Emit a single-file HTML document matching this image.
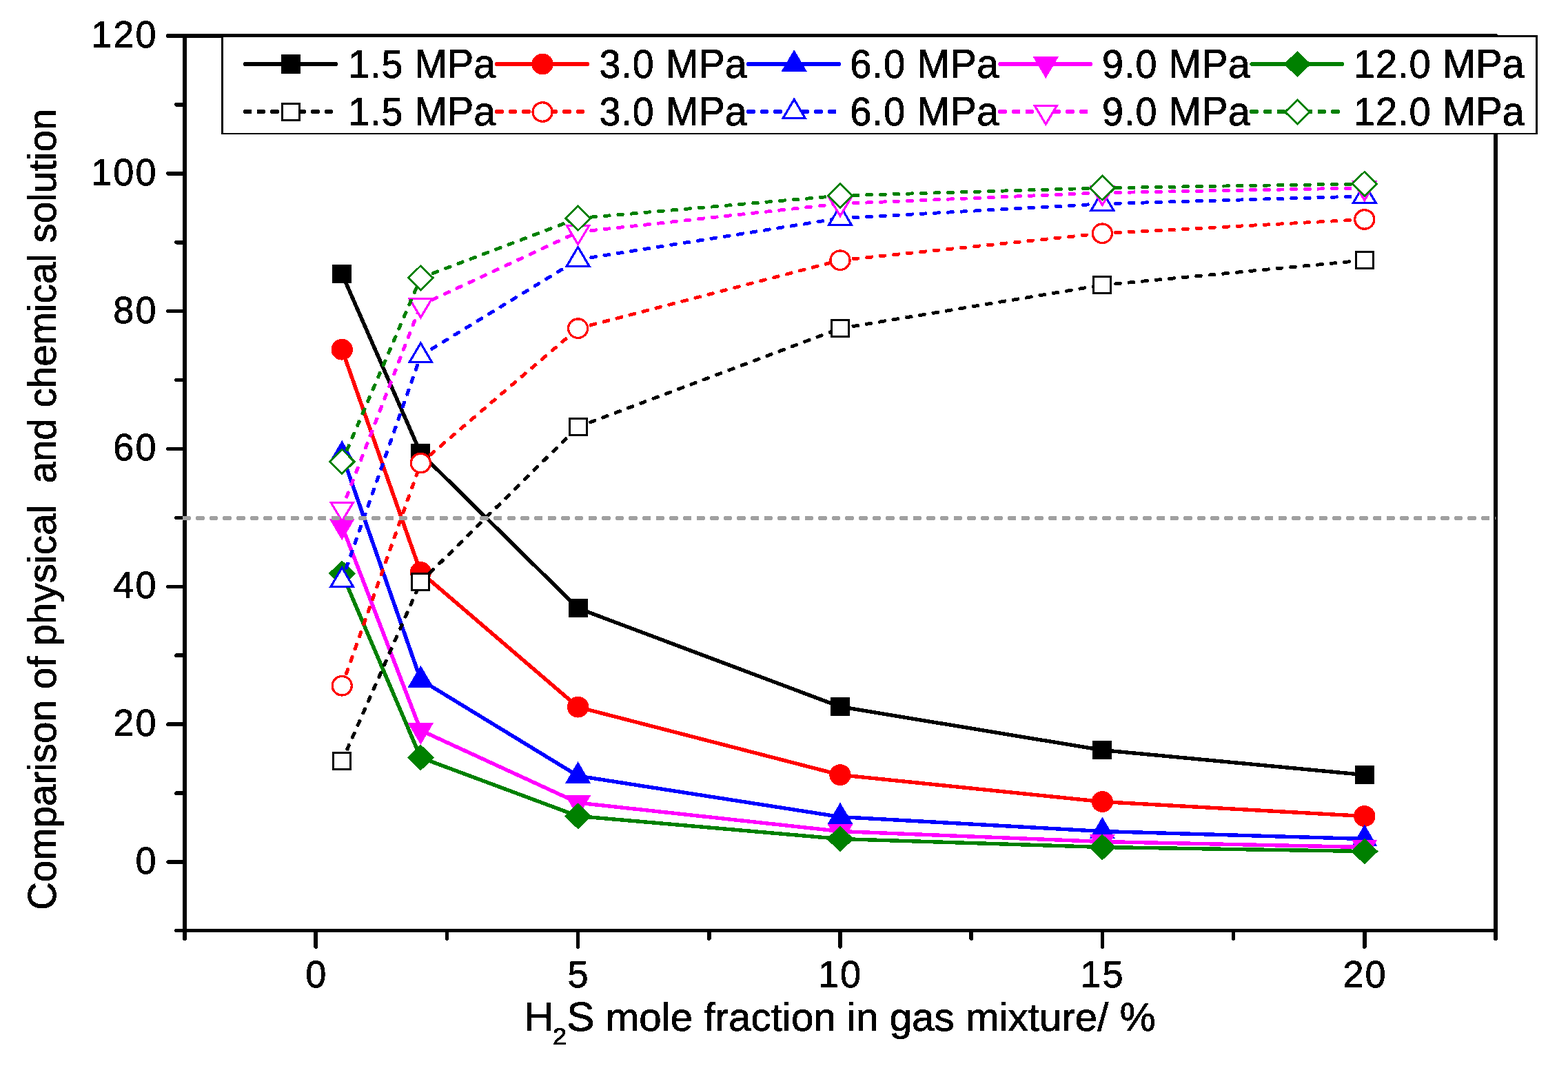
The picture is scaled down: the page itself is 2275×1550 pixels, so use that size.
<!DOCTYPE html>
<html lang="en"><head><meta charset="utf-8"><title>Comparison of physical and chemical solution</title>
<style>
html,body{margin:0;padding:0;background:#fff;}
body{width:2275px;height:1550px;overflow:hidden;}
svg{display:block;}
text{font-family:"Liberation Sans",Arial,Helvetica,sans-serif;fill:#000;stroke:#000;stroke-width:0.8px;stroke-linejoin:round;font-kerning:none;white-space:pre;}
</style></head><body>
<svg width="2275" height="1550" viewBox="0 0 2275 1550" role="img" aria-label="Comparison of physical and chemical solution versus H2S mole fraction">
<defs><filter id="bw" x="-5%" y="-5%" width="110%" height="110%" color-interpolation-filters="sRGB"><feComponentTransfer><feFuncA type="discrete" tableValues="0 1"/></feComponentTransfer></filter></defs>
<rect x="0" y="0" width="2275" height="1550" fill="#ffffff"/>
<g shape-rendering="crispEdges" stroke="#000" fill="none" stroke-linecap="round">
<g stroke-width="6">
<line x1="268" y1="52" x2="268" y2="1362"/>
<line x1="2170" y1="52" x2="2170" y2="1362"/>
<line x1="244" y1="52" x2="2169" y2="52"/>
<line x1="244" y1="1251" x2="268" y2="1251" stroke-width="5.6"/>
<line x1="256" y1="1151.08" x2="268" y2="1151.08" stroke-width="5.6"/>
<line x1="244" y1="1051.17" x2="268" y2="1051.17" stroke-width="5.6"/>
<line x1="256" y1="951.25" x2="268" y2="951.25" stroke-width="5.6"/>
<line x1="244" y1="851.33" x2="268" y2="851.33" stroke-width="5.6"/>
<line x1="256" y1="751.41" x2="268" y2="751.41" stroke-width="5.6"/>
<line x1="244" y1="651.5" x2="268" y2="651.5" stroke-width="5.6"/>
<line x1="256" y1="551.58" x2="268" y2="551.58" stroke-width="5.6"/>
<line x1="244" y1="451.66" x2="268" y2="451.66" stroke-width="5.6"/>
<line x1="256" y1="351.75" x2="268" y2="351.75" stroke-width="5.6"/>
<line x1="244" y1="251.83" x2="268" y2="251.83" stroke-width="5.6"/>
<line x1="256" y1="151.91" x2="268" y2="151.91" stroke-width="5.6"/>
<line x1="458.2" y1="1351" x2="458.2" y2="1374" stroke-width="5.6"/>
<line x1="648.4" y1="1351" x2="648.4" y2="1362" stroke-width="5.6"/>
<line x1="838.6" y1="1351" x2="838.6" y2="1374" stroke-width="5.6"/>
<line x1="1028.8" y1="1351" x2="1028.8" y2="1362" stroke-width="5.6"/>
<line x1="1219" y1="1351" x2="1219" y2="1374" stroke-width="5.6"/>
<line x1="1409.2" y1="1351" x2="1409.2" y2="1362" stroke-width="5.6"/>
<line x1="1599.4" y1="1351" x2="1599.4" y2="1374" stroke-width="5.6"/>
<line x1="1789.6" y1="1351" x2="1789.6" y2="1362" stroke-width="5.6"/>
<line x1="1979.8" y1="1351" x2="1979.8" y2="1374" stroke-width="5.6"/>
</g>
<line x1="255.5" y1="1350.5" x2="2170" y2="1350.5" stroke-width="5"/>
</g>
<g shape-rendering="crispEdges" fill="none">
<polyline transform="scale(1,0.968)" points="496.24,410.86 610.36,679.54 838.6,911.99 1219,1059.59 1599.4,1124.62 1979.8,1161.78" stroke="#000000" stroke-width="5.6" stroke-linejoin="round" stroke-linecap="round"/>
<rect x="482" y="384" width="28" height="27" fill="#000000"/>
<rect x="596" y="644" width="28" height="27" fill="#000000"/>
<rect x="825" y="869" width="28" height="27" fill="#000000"/>
<rect x="1205" y="1012" width="28" height="27" fill="#000000"/>
<rect x="1585" y="1075" width="28" height="27" fill="#000000"/>
<rect x="1966" y="1111" width="28" height="27" fill="#000000"/>
<polyline transform="scale(1,0.968)" points="496.24,523.99 610.36,858.01 838.6,1060.11 1219,1161.78 1599.4,1202.04 1979.8,1223.71" stroke="#ff0000" stroke-width="5.6" stroke-linejoin="round" stroke-linecap="round"/>
<ellipse cx="496.24" cy="507.22" rx="15.7" ry="15.4" fill="#ff0000"/>
<ellipse cx="610.36" cy="830.55" rx="15.7" ry="15.4" fill="#ff0000"/>
<ellipse cx="838.6" cy="1026.19" rx="15.7" ry="15.4" fill="#ff0000"/>
<ellipse cx="1219" cy="1124.6" rx="15.7" ry="15.4" fill="#ff0000"/>
<ellipse cx="1599.4" cy="1163.57" rx="15.7" ry="15.4" fill="#ff0000"/>
<ellipse cx="1979.8" cy="1184.56" rx="15.7" ry="15.4" fill="#ff0000"/>
<polyline transform="scale(1,0.968)" points="496.24,681.81 610.36,1019.24 838.6,1163.33 1219,1224.75 1599.4,1246.42 1979.8,1257.78" stroke="#0000ff" stroke-width="5.6" stroke-linejoin="round" stroke-linecap="round"/>
<polygon points="496.24,638.99 477.54,670.89 514.94,670.89" fill="#0000ff"/>
<polygon points="610.36,965.62 591.66,997.52 629.06,997.52" fill="#0000ff"/>
<polygon points="838.6,1105.1 819.9,1137 857.3,1137" fill="#0000ff"/>
<polygon points="1219,1164.55 1200.3,1196.45 1237.7,1196.45" fill="#0000ff"/>
<polygon points="1599.4,1185.54 1580.7,1217.44 1618.1,1217.44" fill="#0000ff"/>
<polygon points="1979.8,1196.53 1961.1,1228.43 1998.5,1228.43" fill="#0000ff"/>
<polyline transform="scale(1,0.968)" points="496.24,788.64 610.36,1095 838.6,1203.59 1219,1246.42 1599.4,1261.91 1979.8,1270.16" stroke="#ff00ff" stroke-width="5.6" stroke-linejoin="round" stroke-linecap="round"/>
<polygon points="496.24,784.31 477.54,752.61 514.94,752.61" fill="#ff00ff"/>
<polygon points="610.36,1080.86 591.66,1049.16 629.06,1049.16" fill="#ff00ff"/>
<polygon points="838.6,1185.97 819.9,1154.27 857.3,1154.27" fill="#ff00ff"/>
<polygon points="1219,1227.44 1200.3,1195.74 1237.7,1195.74" fill="#ff00ff"/>
<polygon points="1599.4,1242.42 1580.7,1210.72 1618.1,1210.72" fill="#ff00ff"/>
<polygon points="1979.8,1250.42 1961.1,1218.72 1998.5,1218.72" fill="#ff00ff"/>
<polyline transform="scale(1,0.968)" points="496.24,859.86 610.36,1135.87 838.6,1223.61 1219,1257.78 1599.4,1270.16 1979.8,1276.36" stroke="#008000" stroke-width="5.6" stroke-linejoin="round" stroke-linecap="round"/>
<polygon points="496.24,813.35 516.04,832.35 496.24,851.35 476.44,832.35" fill="#008000"/>
<polygon points="610.36,1080.53 630.16,1099.53 610.36,1118.53 590.56,1099.53" fill="#008000"/>
<polygon points="838.6,1165.46 858.4,1184.46 838.6,1203.46 818.8,1184.46" fill="#008000"/>
<polygon points="1219,1198.53 1238.8,1217.53 1219,1236.53 1199.2,1217.53" fill="#008000"/>
<polygon points="1599.4,1210.52 1619.2,1229.52 1599.4,1248.52 1579.6,1229.52" fill="#008000"/>
<polygon points="1979.8,1216.51 1999.6,1235.51 1979.8,1254.51 1960,1235.51" fill="#008000"/>
<g transform="scale(1,0.968)"><line x1="496.24" y1="1141.14" x2="610.36" y2="872.66" stroke="#000000" stroke-width="5.1" stroke-dasharray="10 9.63" stroke-dashoffset="2"/><line x1="496.24" y1="1141.14" x2="610.36" y2="872.66" stroke="#000000" stroke-width="2.9" stroke-dasharray="11.6 8.03" stroke-dashoffset="2.8"/><line x1="610.36" y1="872.66" x2="838.6" y2="640" stroke="#000000" stroke-width="5.1" stroke-dasharray="10 9.63" stroke-dashoffset="2"/><line x1="610.36" y1="872.66" x2="838.6" y2="640" stroke="#000000" stroke-width="2.9" stroke-dasharray="11.6 8.03" stroke-dashoffset="2.8"/><line x1="838.6" y1="640" x2="1219" y2="492.4" stroke="#000000" stroke-width="5.1" stroke-dasharray="10 9.63" stroke-dashoffset="2"/><line x1="838.6" y1="640" x2="1219" y2="492.4" stroke="#000000" stroke-width="2.9" stroke-dasharray="11.6 8.03" stroke-dashoffset="2.8"/><line x1="1219" y1="492.4" x2="1599.4" y2="427.37" stroke="#000000" stroke-width="5.1" stroke-dasharray="10 9.63" stroke-dashoffset="2"/><line x1="1219" y1="492.4" x2="1599.4" y2="427.37" stroke="#000000" stroke-width="2.9" stroke-dasharray="11.6 8.03" stroke-dashoffset="2.8"/><line x1="1599.4" y1="427.37" x2="1979.8" y2="390.21" stroke="#000000" stroke-width="5.1" stroke-dasharray="10 9.63" stroke-dashoffset="2"/><line x1="1599.4" y1="427.37" x2="1979.8" y2="390.21" stroke="#000000" stroke-width="2.9" stroke-dasharray="11.6 8.03" stroke-dashoffset="2.8"/></g>
<rect x="482" y="1091" width="28" height="27" fill="#000000"/><rect x="485" y="1094" width="22" height="21" fill="#fff"/>
<rect x="596" y="831" width="28" height="27" fill="#000000"/><rect x="599" y="834" width="22" height="21" fill="#fff"/>
<rect x="825" y="606" width="28" height="27" fill="#000000"/><rect x="828" y="609" width="22" height="21" fill="#fff"/>
<rect x="1205" y="463" width="28" height="27" fill="#000000"/><rect x="1208" y="466" width="22" height="21" fill="#fff"/>
<rect x="1585" y="400" width="28" height="27" fill="#000000"/><rect x="1588" y="403" width="22" height="21" fill="#fff"/>
<rect x="1966" y="364" width="28" height="27" fill="#000000"/><rect x="1969" y="367" width="22" height="21" fill="#fff"/>
<g transform="scale(1,0.968)"><line x1="496.24" y1="1028.11" x2="610.36" y2="694.3" stroke="#ff0000" stroke-width="5.1" stroke-dasharray="10 9.63" stroke-dashoffset="2"/><line x1="496.24" y1="1028.11" x2="610.36" y2="694.3" stroke="#ff0000" stroke-width="2.9" stroke-dasharray="11.6 8.03" stroke-dashoffset="2.8"/><line x1="610.36" y1="694.3" x2="838.6" y2="492.4" stroke="#ff0000" stroke-width="5.1" stroke-dasharray="10 9.63" stroke-dashoffset="2"/><line x1="610.36" y1="694.3" x2="838.6" y2="492.4" stroke="#ff0000" stroke-width="2.9" stroke-dasharray="11.6 8.03" stroke-dashoffset="2.8"/><line x1="838.6" y1="492.4" x2="1219" y2="390.21" stroke="#ff0000" stroke-width="5.1" stroke-dasharray="10 9.63" stroke-dashoffset="2"/><line x1="838.6" y1="492.4" x2="1219" y2="390.21" stroke="#ff0000" stroke-width="2.9" stroke-dasharray="11.6 8.03" stroke-dashoffset="2.8"/><line x1="1219" y1="390.21" x2="1599.4" y2="349.96" stroke="#ff0000" stroke-width="5.1" stroke-dasharray="10 9.63" stroke-dashoffset="2"/><line x1="1219" y1="390.21" x2="1599.4" y2="349.96" stroke="#ff0000" stroke-width="2.9" stroke-dasharray="11.6 8.03" stroke-dashoffset="2.8"/><line x1="1599.4" y1="349.96" x2="1979.8" y2="329" stroke="#ff0000" stroke-width="5.1" stroke-dasharray="10 9.63" stroke-dashoffset="2"/><line x1="1599.4" y1="349.96" x2="1979.8" y2="329" stroke="#ff0000" stroke-width="2.9" stroke-dasharray="11.6 8.03" stroke-dashoffset="2.8"/></g>
<ellipse cx="496.24" cy="995.21" rx="14.05" ry="13.75" fill="#fff" stroke="#ff0000" stroke-width="3.3"/>
<ellipse cx="610.36" cy="672.08" rx="14.05" ry="13.75" fill="#fff" stroke="#ff0000" stroke-width="3.3"/>
<ellipse cx="838.6" cy="476.64" rx="14.05" ry="13.75" fill="#fff" stroke="#ff0000" stroke-width="3.3"/>
<ellipse cx="1219" cy="377.73" rx="14.05" ry="13.75" fill="#fff" stroke="#ff0000" stroke-width="3.3"/>
<ellipse cx="1599.4" cy="338.76" rx="14.05" ry="13.75" fill="#fff" stroke="#ff0000" stroke-width="3.3"/>
<ellipse cx="1979.8" cy="318.47" rx="14.05" ry="13.75" fill="#fff" stroke="#ff0000" stroke-width="3.3"/>
<g transform="scale(1,0.968)"><line x1="496.24" y1="869.88" x2="610.36" y2="533.28" stroke="#0000ff" stroke-width="5.1" stroke-dasharray="10 9.63" stroke-dashoffset="2"/><line x1="496.24" y1="869.88" x2="610.36" y2="533.28" stroke="#0000ff" stroke-width="2.9" stroke-dasharray="11.6 8.03" stroke-dashoffset="2.8"/><line x1="610.36" y1="533.28" x2="838.6" y2="389.18" stroke="#0000ff" stroke-width="5.1" stroke-dasharray="10 9.63" stroke-dashoffset="2"/><line x1="610.36" y1="533.28" x2="838.6" y2="389.18" stroke="#0000ff" stroke-width="2.9" stroke-dasharray="11.6 8.03" stroke-dashoffset="2.8"/><line x1="838.6" y1="389.18" x2="1219" y2="327.25" stroke="#0000ff" stroke-width="5.1" stroke-dasharray="10 9.63" stroke-dashoffset="2"/><line x1="838.6" y1="389.18" x2="1219" y2="327.25" stroke="#0000ff" stroke-width="2.9" stroke-dasharray="11.6 8.03" stroke-dashoffset="2.8"/><line x1="1219" y1="327.25" x2="1599.4" y2="305.57" stroke="#0000ff" stroke-width="5.1" stroke-dasharray="10 9.63" stroke-dashoffset="2"/><line x1="1219" y1="327.25" x2="1599.4" y2="305.57" stroke="#0000ff" stroke-width="2.9" stroke-dasharray="11.6 8.03" stroke-dashoffset="2.8"/><line x1="1599.4" y1="305.57" x2="1979.8" y2="294.22" stroke="#0000ff" stroke-width="5.1" stroke-dasharray="10 9.63" stroke-dashoffset="2"/><line x1="1599.4" y1="305.57" x2="1979.8" y2="294.22" stroke="#0000ff" stroke-width="2.9" stroke-dasharray="11.6 8.03" stroke-dashoffset="2.8"/></g>
<polygon points="496.24,820.64 477.24,852.94 515.24,852.94" fill="#0000ff"/><polygon points="496.24,826.95 482.72,849.94 509.76,849.94" fill="#fff"/>
<polygon points="610.36,494.81 591.36,527.11 629.36,527.11" fill="#0000ff"/><polygon points="610.36,501.12 596.84,524.11 623.88,524.11" fill="#fff"/>
<polygon points="838.6,355.33 819.6,387.63 857.6,387.63" fill="#0000ff"/><polygon points="838.6,361.64 825.08,384.63 852.12,384.63" fill="#fff"/>
<polygon points="1219,295.38 1200,327.68 1238,327.68" fill="#0000ff"/><polygon points="1219,301.69 1205.48,324.68 1232.52,324.68" fill="#fff"/>
<polygon points="1599.4,274.39 1580.4,306.69 1618.4,306.69" fill="#0000ff"/><polygon points="1599.4,280.7 1585.88,303.69 1612.92,303.69" fill="#fff"/>
<polygon points="1979.8,263.4 1960.8,295.7 1998.8,295.7" fill="#0000ff"/><polygon points="1979.8,269.71 1966.28,292.7 1993.32,292.7" fill="#fff"/>
<g transform="scale(1,0.968)"><line x1="496.24" y1="762.84" x2="610.36" y2="457.51" stroke="#ff00ff" stroke-width="5.1" stroke-dasharray="10 9.63" stroke-dashoffset="2"/><line x1="496.24" y1="762.84" x2="610.36" y2="457.51" stroke="#ff00ff" stroke-width="2.9" stroke-dasharray="11.6 8.03" stroke-dashoffset="2.8"/><line x1="610.36" y1="457.51" x2="838.6" y2="347.89" stroke="#ff00ff" stroke-width="5.1" stroke-dasharray="10 9.63" stroke-dashoffset="2"/><line x1="610.36" y1="457.51" x2="838.6" y2="347.89" stroke="#ff00ff" stroke-width="2.9" stroke-dasharray="11.6 8.03" stroke-dashoffset="2.8"/><line x1="838.6" y1="347.89" x2="1219" y2="305.37" stroke="#ff00ff" stroke-width="5.1" stroke-dasharray="10 9.63" stroke-dashoffset="2"/><line x1="838.6" y1="347.89" x2="1219" y2="305.37" stroke="#ff00ff" stroke-width="2.9" stroke-dasharray="11.6 8.03" stroke-dashoffset="2.8"/><line x1="1219" y1="305.37" x2="1599.4" y2="289.06" stroke="#ff00ff" stroke-width="5.1" stroke-dasharray="10 9.63" stroke-dashoffset="2"/><line x1="1219" y1="305.37" x2="1599.4" y2="289.06" stroke="#ff00ff" stroke-width="2.9" stroke-dasharray="11.6 8.03" stroke-dashoffset="2.8"/><line x1="1599.4" y1="289.06" x2="1979.8" y2="281.83" stroke="#ff00ff" stroke-width="5.1" stroke-dasharray="10 9.63" stroke-dashoffset="2"/><line x1="1599.4" y1="289.06" x2="1979.8" y2="281.83" stroke="#ff00ff" stroke-width="2.9" stroke-dasharray="11.6 8.03" stroke-dashoffset="2.8"/></g>
<polygon points="496.24,759.33 477.24,727.63 515.24,727.63" fill="#ff00ff"/><polygon points="496.24,753.1 482.77,730.63 509.71,730.63" fill="#fff"/>
<polygon points="610.36,463.77 591.36,432.07 629.36,432.07" fill="#ff00ff"/><polygon points="610.36,457.55 596.89,435.07 623.83,435.07" fill="#fff"/>
<polygon points="838.6,357.66 819.6,325.96 857.6,325.96" fill="#ff00ff"/><polygon points="838.6,351.43 825.13,328.96 852.07,328.96" fill="#fff"/>
<polygon points="1219,316.49 1200,284.79 1238,284.79" fill="#ff00ff"/><polygon points="1219,310.27 1205.53,287.79 1232.47,287.79" fill="#fff"/>
<polygon points="1599.4,300.71 1580.4,269.01 1618.4,269.01" fill="#ff00ff"/><polygon points="1599.4,294.48 1585.93,272.01 1612.87,272.01" fill="#fff"/>
<polygon points="1979.8,293.71 1960.8,262.01 1998.8,262.01" fill="#ff00ff"/><polygon points="1979.8,287.49 1966.33,265.01 1993.27,265.01" fill="#fff"/>
<g transform="scale(1,0.968)"><line x1="496.24" y1="692.13" x2="610.36" y2="416.64" stroke="#008000" stroke-width="5.1" stroke-dasharray="10 9.63" stroke-dashoffset="2"/><line x1="496.24" y1="692.13" x2="610.36" y2="416.64" stroke="#008000" stroke-width="2.9" stroke-dasharray="11.6 8.03" stroke-dashoffset="2.8"/><line x1="610.36" y1="416.64" x2="838.6" y2="327.25" stroke="#008000" stroke-width="5.1" stroke-dasharray="10 9.63" stroke-dashoffset="2"/><line x1="610.36" y1="416.64" x2="838.6" y2="327.25" stroke="#008000" stroke-width="2.9" stroke-dasharray="11.6 8.03" stroke-dashoffset="2.8"/><line x1="838.6" y1="327.25" x2="1219" y2="293.39" stroke="#008000" stroke-width="5.1" stroke-dasharray="10 9.63" stroke-dashoffset="2"/><line x1="838.6" y1="327.25" x2="1219" y2="293.39" stroke="#008000" stroke-width="2.9" stroke-dasharray="11.6 8.03" stroke-dashoffset="2.8"/><line x1="1219" y1="293.39" x2="1599.4" y2="281.83" stroke="#008000" stroke-width="5.1" stroke-dasharray="10 9.63" stroke-dashoffset="2"/><line x1="1219" y1="293.39" x2="1599.4" y2="281.83" stroke="#008000" stroke-width="2.9" stroke-dasharray="11.6 8.03" stroke-dashoffset="2.8"/><line x1="1599.4" y1="281.83" x2="1979.8" y2="275.64" stroke="#008000" stroke-width="5.1" stroke-dasharray="10 9.63" stroke-dashoffset="2"/><line x1="1599.4" y1="281.83" x2="1979.8" y2="275.64" stroke="#008000" stroke-width="2.9" stroke-dasharray="11.6 8.03" stroke-dashoffset="2.8"/></g>
<polygon points="496.24,650.48 516.24,669.98 496.24,689.48 476.24,669.98" fill="#008000"/><polygon points="496.24,654.18 511.94,669.98 496.24,685.78 480.54,669.98" fill="#fff"/>
<polygon points="610.36,383.8 630.36,403.3 610.36,422.8 590.36,403.3" fill="#008000"/><polygon points="610.36,387.5 626.06,403.3 610.36,419.1 594.66,403.3" fill="#fff"/>
<polygon points="838.6,297.28 858.6,316.78 838.6,336.28 818.6,316.78" fill="#008000"/><polygon points="838.6,300.98 854.3,316.78 838.6,332.58 822.9,316.78" fill="#fff"/>
<polygon points="1219,264.5 1239,284 1219,303.5 1199,284" fill="#008000"/><polygon points="1219,268.2 1234.7,284 1219,299.8 1203.3,284" fill="#fff"/>
<polygon points="1599.4,253.31 1619.4,272.81 1599.4,292.31 1579.4,272.81" fill="#008000"/><polygon points="1599.4,257.01 1615.1,272.81 1599.4,288.61 1583.7,272.81" fill="#fff"/>
<polygon points="1979.8,247.32 1999.8,266.82 1979.8,286.32 1959.8,266.82" fill="#008000"/><polygon points="1979.8,251.02 1995.5,266.82 1979.8,282.62 1964.1,266.82" fill="#fff"/>
<line x1="264.6" y1="752" x2="2170" y2="752" stroke="#a0a0a0" stroke-width="6" stroke-dasharray="10.8 8.83" stroke-dashoffset="-0.8"/><line x1="264.6" y1="752" x2="2170" y2="752" stroke="#a0a0a0" stroke-width="3.8" stroke-dasharray="12.4 7.23" stroke-dashoffset="0"/>
</g>
<g filter="url(#bw)">
<text transform="translate(196.41,1268) scale(0.9700,1)"><tspan font-size="55.8" letter-spacing="2">0</tspan></text>
<text transform="translate(164.37,1068) scale(0.9700,1)"><tspan font-size="55.8" letter-spacing="2">20</tspan></text>
<text transform="translate(164.37,868) scale(0.9700,1)"><tspan font-size="55.8" letter-spacing="2">40</tspan></text>
<text transform="translate(164.37,668) scale(0.9700,1)"><tspan font-size="55.8" letter-spacing="2">60</tspan></text>
<text transform="translate(164.37,469) scale(0.9700,1)"><tspan font-size="55.8" letter-spacing="2">80</tspan></text>
<text transform="translate(132.33,269) scale(0.9700,1)"><tspan font-size="55.8" letter-spacing="2">100</tspan></text>
<text transform="translate(132.33,69) scale(0.9700,1)"><tspan font-size="55.8" letter-spacing="2">120</tspan></text>
<text transform="translate(443.15,1433.4) scale(0.9700,1)"><tspan font-size="55.8" letter-spacing="2">0</tspan></text>
<text transform="translate(823.6,1433.4) scale(0.9700,1)"><tspan font-size="55.8" letter-spacing="2">5</tspan></text>
<text transform="translate(1186.92,1433.4) scale(0.9700,1)"><tspan font-size="55.8" letter-spacing="2">10</tspan></text>
<text transform="translate(1567.4,1433.4) scale(0.9700,1)"><tspan font-size="55.8" letter-spacing="2">15</tspan></text>
<text transform="translate(1948.42,1433.4) scale(0.9700,1)"><tspan font-size="55.8" letter-spacing="2">20</tspan></text>
</g>
<g filter="url(#bw)">
<text transform="translate(0,1496) scale(1.0313,1)"><tspan x="736.87" font-size="58.5">H</tspan><tspan x="777.73" dy="20" font-size="35">2</tspan><tspan x="797.29" dy="-20" font-size="58.5">S</tspan><tspan font-size="56.6"> mole fraction in gas mixture/ %</tspan></text>
<text transform="translate(81,1320.87) rotate(-90) scale(0.9998,1)"><tspan font-size="56.6" letter-spacing="0">Comparison of physical  and chemical solution</tspan></text>
</g>
<g shape-rendering="crispEdges">
<rect x="321" y="51" width="1910" height="144" fill="#000"/>
<rect x="324" y="54" width="1904" height="139" fill="#fff"/>
<line x1="356" y1="93" x2="487" y2="93" stroke="#000000" stroke-width="6" stroke-linecap="round"/>
<rect x="408" y="79" width="28" height="28" fill="#000000"/>
<line x1="353" y1="162" x2="490" y2="162" stroke="#000000" stroke-width="6" stroke-dasharray="10.8 8.83" stroke-dashoffset="-0.8"/><line x1="353" y1="162" x2="490" y2="162" stroke="#000000" stroke-width="3.8" stroke-dasharray="12.4 7.23" stroke-dashoffset="0"/>
<rect x="408" y="149" width="28" height="27" fill="#000000"/><rect x="411" y="152" width="22" height="21" fill="#fff"/>
<line x1="721.1" y1="93" x2="852.1" y2="93" stroke="#ff0000" stroke-width="6" stroke-linecap="round"/>
<ellipse cx="787.1" cy="93" rx="15.7" ry="15.4" fill="#ff0000"/>
<line x1="718.1" y1="162" x2="855.1" y2="162" stroke="#ff0000" stroke-width="6" stroke-dasharray="10.8 8.83" stroke-dashoffset="-0.8"/><line x1="718.1" y1="162" x2="855.1" y2="162" stroke="#ff0000" stroke-width="3.8" stroke-dasharray="12.4 7.23" stroke-dashoffset="0"/>
<ellipse cx="787.1" cy="162.5" rx="14.05" ry="13.75" fill="#fff" stroke="#ff0000" stroke-width="3.3"/>
<line x1="1086.2" y1="93" x2="1217.2" y2="93" stroke="#0000ff" stroke-width="6" stroke-linecap="round"/>
<polygon points="1152.2,72 1133.5,103.9 1170.9,103.9" fill="#0000ff"/>
<line x1="1083.2" y1="162" x2="1220.2" y2="162" stroke="#0000ff" stroke-width="6" stroke-dasharray="10.8 8.83" stroke-dashoffset="-0.8"/><line x1="1083.2" y1="162" x2="1220.2" y2="162" stroke="#0000ff" stroke-width="3.8" stroke-dasharray="12.4 7.23" stroke-dashoffset="0"/>
<polygon points="1152.2,141.1 1133.2,173.4 1171.2,173.4" fill="#0000ff"/><polygon points="1152.2,147.41 1138.68,170.4 1165.72,170.4" fill="#fff"/>
<line x1="1451.3" y1="93" x2="1582.3" y2="93" stroke="#ff00ff" stroke-width="6" stroke-linecap="round"/>
<polygon points="1517.3,113.9 1498.6,82.2 1536,82.2" fill="#ff00ff"/>
<line x1="1448.3" y1="162" x2="1585.3" y2="162" stroke="#ff00ff" stroke-width="6" stroke-dasharray="10.8 8.83" stroke-dashoffset="-0.8"/><line x1="1448.3" y1="162" x2="1585.3" y2="162" stroke="#ff00ff" stroke-width="3.8" stroke-dasharray="12.4 7.23" stroke-dashoffset="0"/>
<polygon points="1517.3,183.4 1498.3,151.7 1536.3,151.7" fill="#ff00ff"/><polygon points="1517.3,177.18 1503.83,154.7 1530.77,154.7" fill="#fff"/>
<line x1="1816.4" y1="93" x2="1947.4" y2="93" stroke="#008000" stroke-width="6" stroke-linecap="round"/>
<polygon points="1882.4,74 1902.2,93 1882.4,112 1862.6,93" fill="#008000"/>
<line x1="1813.4" y1="162" x2="1950.4" y2="162" stroke="#008000" stroke-width="6" stroke-dasharray="10.8 8.83" stroke-dashoffset="-0.8"/><line x1="1813.4" y1="162" x2="1950.4" y2="162" stroke="#008000" stroke-width="3.8" stroke-dasharray="12.4 7.23" stroke-dashoffset="0"/>
<polygon points="1882.4,143 1902.4,162.5 1882.4,182 1862.4,162.5" fill="#008000"/><polygon points="1882.4,146.7 1898.1,162.5 1882.4,178.3 1866.7,162.5" fill="#fff"/>
</g>
<g filter="url(#bw)">
<text transform="translate(505.26,113) scale(0.9794,1)"><tspan font-size="56.8" letter-spacing="0.95">1.5</tspan><tspan font-size="58.5" letter-spacing="0"> MPa</tspan></text>
<text transform="translate(505.26,182) scale(0.9794,1)"><tspan font-size="56.8" letter-spacing="0.95">1.5</tspan><tspan font-size="58.5" letter-spacing="0"> MPa</tspan></text>
<text transform="translate(869.48,113) scale(0.9816,1)"><tspan font-size="56.8" letter-spacing="0.95">3.0</tspan><tspan font-size="58.5" letter-spacing="0"> MPa</tspan></text>
<text transform="translate(869.48,182) scale(0.9816,1)"><tspan font-size="56.8" letter-spacing="0.95">3.0</tspan><tspan font-size="58.5" letter-spacing="0"> MPa</tspan></text>
<text transform="translate(1233.15,113) scale(0.9891,1)"><tspan font-size="56.8" letter-spacing="0.95">6.0</tspan><tspan font-size="58.5" letter-spacing="0"> MPa</tspan></text>
<text transform="translate(1233.15,182) scale(0.9891,1)"><tspan font-size="56.8" letter-spacing="0.95">6.0</tspan><tspan font-size="58.5" letter-spacing="0"> MPa</tspan></text>
<text transform="translate(1598.98,113) scale(0.9834,1)"><tspan font-size="56.8" letter-spacing="0.95">9.0</tspan><tspan font-size="58.5" letter-spacing="0"> MPa</tspan></text>
<text transform="translate(1598.98,182) scale(0.9834,1)"><tspan font-size="56.8" letter-spacing="0.95">9.0</tspan><tspan font-size="58.5" letter-spacing="0"> MPa</tspan></text>
<text transform="translate(1963.72,113) scale(0.9889,1)"><tspan font-size="56.8" letter-spacing="0.95">12.0</tspan><tspan font-size="58.5" letter-spacing="0"> MPa</tspan></text>
<text transform="translate(1963.72,182) scale(0.9889,1)"><tspan font-size="56.8" letter-spacing="0.95">12.0</tspan><tspan font-size="58.5" letter-spacing="0"> MPa</tspan></text>
</g>
</svg></body></html>
